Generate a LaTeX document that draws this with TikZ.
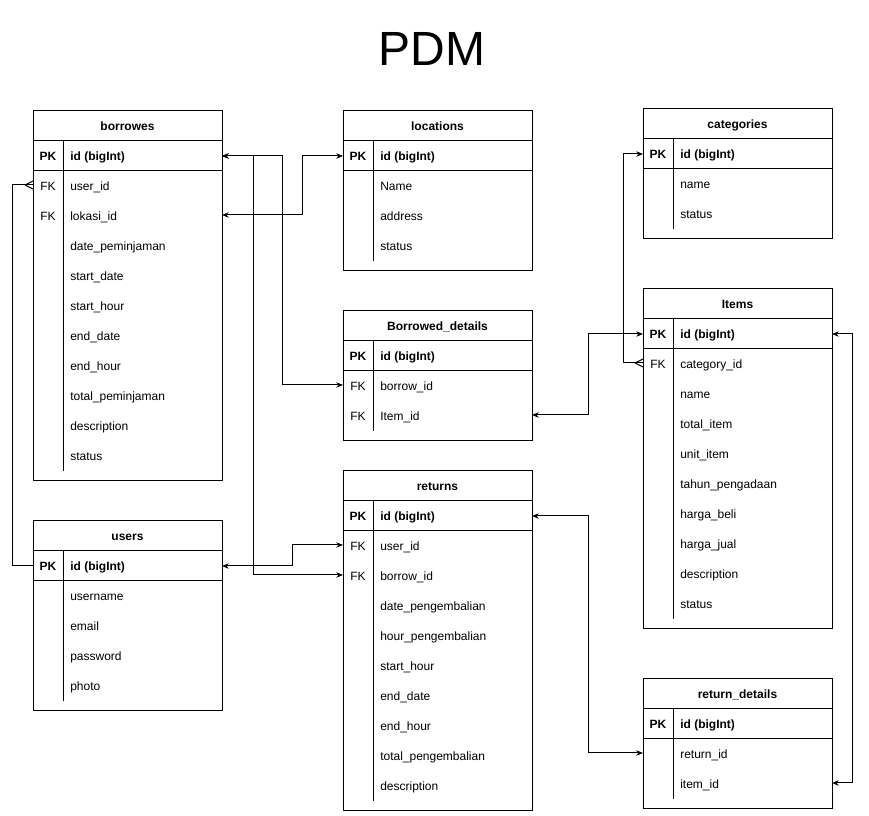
\documentclass[tikz,border=0pt]{standalone}
\usepackage{fontspec}
\setmainfont{Liberation Sans}
\usepackage{tikz}
\usetikzlibrary{arrows.meta,positioning}

\tikzset{
  erhead/.tip={Stealth[length=5pt,width=4pt,inset=1.5pt]},
  tbl/.style={draw,line width=0.75pt},
  rowbox/.style={minimum width=141.75pt,minimum height=22.5pt,inner sep=0pt,outer sep=0pt},
  keytext/.style={inner sep=0pt,anchor=mid,yshift=-1pt},
  fieldtext/.style={inner sep=0pt,anchor=mid west,yshift=-1pt},
  headtext/.style={inner sep=0pt,anchor=mid,yshift=-1pt,font=\bfseries},
  link/.style={line width=0.75pt}
}

% one entity box: name, left x, top y, rows, title, pk field, key/field/name list
\newcommand{\ertable}[7]{%
  \draw[tbl] (#2,#3) rectangle (#2+189,#3+70+30*#4);
  \draw[tbl] (#2,#3+30) -- (#2+189,#3+30);
  \draw[tbl] (#2,#3+60) -- (#2+189,#3+60);
  \draw[tbl] (#2+30,#3+30) -- (#2+30,#3+60+30*#4);
  \node[headtext] (#1) at (#2+94.5,#3+15) {#5};
  \node[rowbox] (#1-pk) at (#2+94.5,#3+45) {};
  \node[keytext,font=\bfseries] at (#2+15,#3+45) {PK};
  \node[fieldtext,font=\bfseries] at (#2+37,#3+45) {#6};
  \foreach \ky/\fd/\nm [count=\i] in {#7}{
    \node[rowbox] (#1-\nm) at (#2+94.5,#3+44+30*\i) {};
    \node[keytext] at (#2+15,#3+45+30*\i) {\ky};
    \node[fieldtext] at (#2+37,#3+45+30*\i) {\fd};
  }%
}
% many side of a relation
\newcommand{\crowfoot}[2]{%
  \draw[link] (#1) ++(#2*8,0) -- ++(-#2*8,-4) ++(#2*8,4) -- ++(-#2*8,4);
}

\begin{document}
\fontsize{9pt}{11pt}\selectfont
\begin{tikzpicture}[x=0.75pt,y=-0.75pt]
\useasboundingbox (0,0) rectangle (869,816);
%title
\node[inner sep=0pt,font=\fontsize{36pt}{40pt}\selectfont] (title) at (432,49) {PDM};
%left column
\ertable{bor}{33}{111}{10}{borrowes}{id (bigInt)}{FK/user\_id/userid, FK/lokasi\_id/lokasiid,
  /date\_peminjaman/date, /start\_date/sdate, /start\_hour/shour, /end\_date/edate,
  /end\_hour/ehour, /total\_peminjaman/total, /description/desc, /status/status}
\ertable{usr}{33}{521}{4}{users}{id (bigInt)}{/username/uname, /email/email, /password/pass, /photo/photo}
%middle column
\ertable{loc}{343}{111}{3}{locations}{id (bigInt)}{/Name/name, /address/address, /status/status}
\ertable{bd}{343}{311}{2}{Borrowed\_details}{id (bigInt)}{FK/borrow\_id/borrowid, FK/Item\_id/itemid}
\ertable{ret}{343}{471}{9}{returns}{id (bigInt)}{FK/user\_id/userid, FK/borrow\_id/borrowid,
  /date\_pengembalian/date, /hour\_pengembalian/hour, /start\_hour/shour, /end\_date/edate,
  /end\_hour/ehour, /total\_pengembalian/total, /description/desc}
%right column
\ertable{cat}{643}{109}{2}{categories}{id (bigInt)}{/name/name, /status/status}
\ertable{itm}{643}{289}{9}{Items}{id (bigInt)}{FK/category\_id/catid, /name/name, /total\_item/total,
  /unit\_item/unit, /tahun\_pengadaan/tahun, /harga\_beli/beli, /harga\_jual/jual,
  /description/desc, /status/status}
\ertable{rd}{643}{679}{2}{return\_details}{id (bigInt)}{/return\_id/returnid, /item\_id/itemid}
%relations
\draw[link,erhead-erhead] (bor-lokasiid.east) -- ++(80,0) |- (loc-pk.west);
\draw[link,erhead-erhead] (bd-borrowid.west) -- ++(-61,0) |- (bor-pk.east);
\draw[link,erhead-erhead] (ret-borrowid.west) -- ++(-90,0) |- (bor-pk.east);
\draw[link,erhead-erhead] (usr-pk.east) -- ++(70,0) |- (ret-userid.west);
\draw[link] (usr-pk.west) -- ++(-21,0) |- (bor-userid.west); \crowfoot{bor-userid.west}{-1}
\draw[link,-erhead] (itm-catid.west) -- ++(-20,0) |- (cat-pk.west); \crowfoot{itm-catid.west}{-1}
\draw[link,erhead-erhead] (bd-itemid.east) -- ++(56,0) |- (itm-pk.west);
\draw[link,erhead-erhead] (ret-pk.east) -- ++(56,0) |- (rd-returnid.west);
\draw[link,erhead-erhead] (itm-pk.east) -- ++(20,0) |- (rd-itemid.east);
\end{tikzpicture}
\end{document}
